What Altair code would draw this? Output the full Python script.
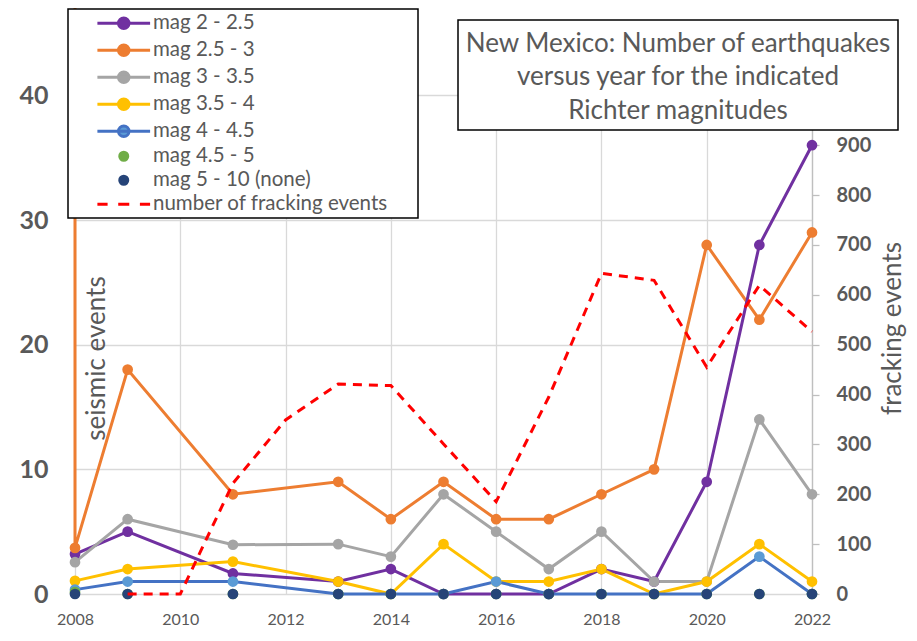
import altair as alt
import pandas as pd

# ---------------- data ----------------
years = [2008, 2009, 2011, 2013, 2014, 2015, 2016, 2017, 2018, 2019, 2020, 2021, 2022]
mag_2_25 = [3.2, 5, 1.65, 1, 2, 0, 0, 0, 2, 1, 9, 28, 36]
mag_25_3 = [3.7, 18, 8, 9, 6, 9, 6, 6, 8, 10, 28, 22, 29]
mag_3_35 = [2.55, 6, 3.95, 4, 3, 8, 5, 2, 5, 1, 1, 14, 8]
mag_35_4 = [1.05, 2, 2.6, 1, 0, 4, 1, 1, 2, 0, 1, 4, 1]
mag_4_45 = [0.35, 1, 1, 0, 0, 0, 1, 0, 0, 0, 0, 3, 0]
mag_45_5 = [0.15, 0, 0, 0, 0, 0, 0, 0, 0, 0, 0, 0, 0]
mag_5_10 = [0, 0, 0, 0, 0, 0, 0, 0, 0, 0, 0, 0, 0]
# the mag 2.5 - 3 line enters 2008 from far above the plotted range
mag_25_3_lead_in = 60

frack_years = [2009, 2010, 2011, 2012, 2013, 2014, 2015, 2016, 2017, 2018, 2019, 2020, 2021, 2022]
fracking = [0, 0, 222, 349, 421, 418, 301, 185, 395, 643, 629, 455, 619, 526]

series_names = ["mag 2 - 2.5", "mag 2.5 - 3", "mag 3 - 3.5", "mag 3.5 - 4",
                "mag 4 - 4.5", "mag 4.5 - 5", "mag 5 - 10 (none)",
                "number of fracking events"]
line_colors = ["#7030A0", "#ED7D31", "#A5A5A5", "#FFC000", "#4472C4",
               "#70AD47", "#264478", "#FF0000"]
marker_colors = ["#7030A0", "#ED7D31", "#A5A5A5", "#FFC000", "#5B9BD5",
                 "#70AD47", "#264478", "#FF0000"]
x_ticks = [2008, 2010, 2012, 2014, 2016, 2018, 2020, 2022]
left_ticks = [0, 10, 20, 30, 40]
right_ticks = [0, 100, 200, 300, 400, 500, 600, 700, 800, 900]
title_lines = ["New Mexico: Number of earthquakes",
               "versus year for the indicated", "Richter magnitudes"]

# legend symbol shapes (unit square paths)
line_dot = "M-3.1,0H3.1M-0.62,0A0.62,0.62,0,1,1,0.62,0A0.62,0.62,0,1,1,-0.62,0Z"
dot = "M-0.47,0A0.47,0.47,0,1,1,0.47,0A0.47,0.47,0,1,1,-0.47,0Z"
dash = "M-3.1,0H-1.9M-0.65,0H0.65M1.9,0H3.1"
legend_shapes = [line_dot, line_dot, line_dot, line_dot, line_dot, dot, dot, dash]

all_vals = [mag_2_25, mag_25_3, mag_3_35, mag_35_4, mag_4_45, mag_45_5, mag_5_10]
rows = []
for name, vals in zip(series_names[:7], all_vals):
    for i, (yr, v) in enumerate(zip(years, vals)):
        rows.append({"year": yr, "value": v, "series": name, "idx": i})
pts_df = pd.DataFrame(rows)
lines_df = pd.concat([
    pd.DataFrame([{"year": 2008, "value": mag_25_3_lead_in, "series": series_names[1], "idx": -1}]),
    pts_df[pts_df["series"].isin(series_names[:5])],
], ignore_index=True)
frack_df = pd.DataFrame({"year": frack_years, "fracking": fracking})
legend_df = pd.DataFrame({"series": series_names})

GRAY = "#595959"
GRID = "#D9D9D9"
FONT = "Lato"

x_axis = alt.Axis(values=x_ticks, format="d", title=None, grid=True,
                  gridColor=GRID, gridWidth=1.3, domain=False,
                  ticks=False, tickSize=0, labelFont=FONT, labelFontSize=16,
                  labelColor=GRAY, labelPadding=17, labelFlush=False,
                  labelOverlap=False)
x_enc = alt.X("year:Q", scale=alt.Scale(domain=[2008, 2022], nice=False, zero=False),
              axis=x_axis)

left_axis = alt.Axis(values=left_ticks, title="seismic events", titleX=21,
                     titleY=325, titleAngle=270, titleAlign="center",
                     titleBaseline="middle", titleFont=FONT, titleFontSize=26,
                     titleFontWeight="normal", titleColor=GRAY, grid=True,
                     gridColor=GRID, gridWidth=1.3, domain=False,
                     ticks=False, tickSize=0, labelFont=FONT,
                     labelFontSize=25, labelFontWeight="bold", labelAlign="right",
                     labelColor=GRAY, labelPadding=27)
y_left = alt.Y("value:Q", scale=alt.Scale(domain=[0, 45], nice=False), axis=left_axis)

lines = alt.Chart(lines_df).mark_line(strokeWidth=3).encode(
    x=x_enc,
    y=y_left,
    stroke=alt.Stroke("series:N", scale=alt.Scale(domain=series_names, range=line_colors),
                      legend=None),
    order=alt.Order("idx:Q"),
)

points = alt.Chart(pts_df).mark_point(filled=True, shape="circle", size=115, opacity=1).encode(
    x=x_enc,
    y=y_left,
    fill=alt.Fill("series:N", scale=alt.Scale(domain=series_names, range=marker_colors),
                  legend=None),
)

mag = alt.layer(lines, points)

frack = alt.Chart(frack_df).mark_line(color="#FF0000", strokeWidth=3, strokeDash=[9, 7]).encode(
    x=x_enc,
    y=alt.Y("fracking:Q", scale=alt.Scale(domain=[0, 1125], nice=False),
            axis=alt.Axis(orient="right", values=right_ticks, title="fracking events",
                          titleX=80, titleY=295, titleAngle=270, titleAlign="center",
                          titleBaseline="middle", titleFont=FONT, titleFontSize=26,
                          titleFontWeight="normal", titleColor=GRAY, grid=False,
                          domain=True, domainColor="#BFBFBF", domainWidth=1.3,
                          ticks=True, tickSize=7, tickColor="#BFBFBF", tickWidth=1.3,
                          labelFont=FONT, labelFontSize=20, labelFontWeight="bold",
                          labelAlign="left", labelColor=GRAY, labelPadding=17)),
)

leg = alt.Legend(title=None, orient="none", legendX=-7, legendY=-24,
                 direction="vertical", padding=4,
                 labelFont=FONT, labelFontSize=20.5,
                 labelColor=GRAY, symbolSize=289, symbolStrokeWidth=3,
                 symbolOffset=41.5, labelOffset=19, rowPadding=3,
                 symbolOpacity=1, symbolFillColor="white",
                 symbolStrokeColor="black", labelLimit=400)

legend_layer = alt.Chart(legend_df).mark_point(filled=True, opacity=1, strokeWidth=3).encode(
    fill=alt.Fill("series:N", scale=alt.Scale(domain=series_names, range=marker_colors),
                  legend=leg),
    stroke=alt.Stroke("series:N", scale=alt.Scale(domain=series_names, range=line_colors),
                      legend=leg),
    shape=alt.Shape("series:N", scale=alt.Scale(domain=series_names, range=legend_shapes),
                    legend=leg),
).transform_filter("false")

annot = alt.Chart(alt.Data(values=[{}]))
legend_box = annot.mark_rect(fill="white", stroke="black", strokeWidth=1.5).encode(
    x=alt.value(-7), x2=alt.value(343), y=alt.value(-24), y2=alt.value(185))
box = annot.mark_rect(fill="white", stroke="black", strokeWidth=1.5).encode(
    x=alt.value(383), x2=alt.value(823), y=alt.value(-13), y2=alt.value(97))
title_text = annot.mark_text(font=FONT, fontSize=26, color=GRAY, lineHeight=33.7,
                             align="center", baseline="middle").encode(
    x=alt.value(603), y=alt.value(10.5), text=alt.value(title_lines))

chart = alt.layer(mag, frack, legend_box, legend_layer, box, title_text).resolve_scale(
    y="independent", fill="independent", stroke="independent", shape="independent"
).properties(
    width=737, height=561,
    autosize=alt.AutoSizeParams(type="none"),
    padding={"left": 67, "top": 25, "right": 95, "bottom": 35},
).configure_view(stroke=None)

chart.save("out.html", embed_options={"renderer": "svg", "actions": False})
